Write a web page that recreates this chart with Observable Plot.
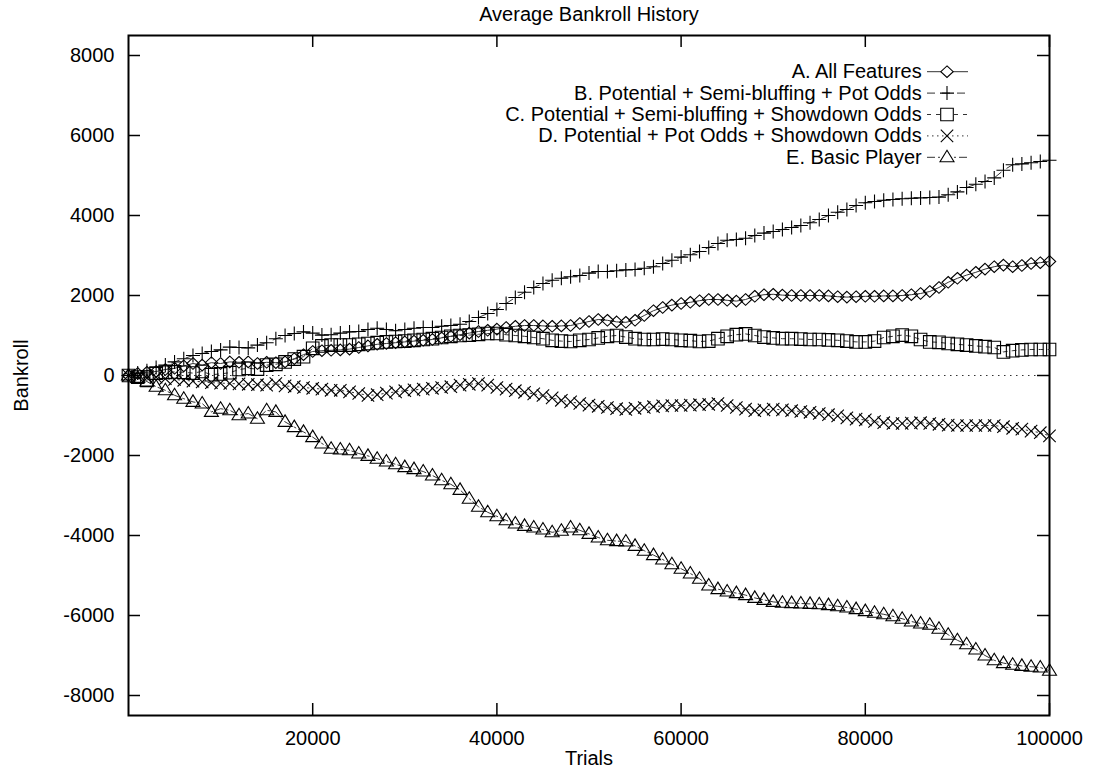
<!DOCTYPE html>
<html>
<head>
<meta charset="utf-8">
<script src="https://cdn.jsdelivr.net/npm/d3@7"></script>
<script src="https://cdn.jsdelivr.net/npm/@observablehq/plot@0.6"></script>
<style>
html, body { margin: 0; padding: 0; background: #fff; }
#chart svg { display: block; }
</style>
</head>
<body>
<div id="chart"></div>
<script>
// ---------- data (one point every 1000 trials) ----------
const trialStep = 1000;

const seriesNames = [
  "A. All Features",
  "B. Potential + Semi-bluffing + Pot Odds",
  "C. Potential + Semi-bluffing + Showdown Odds",
  "D. Potential + Pot Odds + Showdown Odds",
  "E. Basic Player"
];

const allFeatures = [
  0, 50, 80, 100, 150, 180, 240, 300, 260, 320,
  300, 340, 330, 340, 300, 330, 320, 340, 420, 520,
  600, 620, 630, 640, 660, 700, 740, 780, 800, 820,
  840, 860, 880, 900, 940, 980, 1020, 1060, 1100, 1130,
  1160, 1200, 1230, 1250, 1250, 1240, 1230, 1240, 1250, 1300,
  1350, 1400, 1380, 1340, 1330, 1380, 1500, 1620, 1700, 1760,
  1800, 1830, 1870, 1900, 1900, 1880, 1860, 1900, 1980, 2020,
  2030, 2010, 2000, 2000, 2000, 2000, 1990, 1970, 1960, 1970,
  1980, 1980, 1990, 1990, 2000, 2020, 2050, 2100, 2200, 2330,
  2430, 2510, 2580, 2660, 2720, 2760, 2720, 2750, 2800, 2820,
  2850
];

const semiBluffPotOdds = [
  0, 60, 120, 200, 260, 340, 420, 500, 550, 600,
  640, 710, 700, 690, 760, 820, 920, 1000, 1050, 1090,
  1060, 1010, 1020, 1060, 1090, 1100, 1150, 1180, 1150, 1120,
  1150, 1180, 1200, 1200, 1230, 1250, 1280, 1350, 1450, 1550,
  1650, 1800, 1950, 2080, 2200, 2300, 2380, 2430, 2470, 2500,
  2560, 2600, 2600, 2620, 2640, 2650, 2680, 2720, 2800, 2880,
  2960, 3020, 3100, 3200, 3300, 3380, 3400, 3430, 3500, 3560,
  3600, 3650, 3700, 3750, 3820, 3900, 4000, 4080, 4150, 4250,
  4320, 4350, 4380, 4400, 4420, 4430, 4440, 4450, 4460, 4520,
  4590, 4700, 4780, 4850, 4940, 5130, 5270, 5290, 5320, 5350,
  5380
];

const semiBluffShowdown = [
  0, -40, -120, 60, 80, 90, 80, 60, 100, 20,
  40, 70, 150, 180, 160, 260, 280, 340, 410, 470,
  680, 740, 760, 760, 760, 780, 800, 820, 840, 850,
  860, 880, 900, 920, 950, 980, 1000, 1010, 1030, 1050,
  1050, 1020, 1000, 980, 950, 920, 880, 860, 850, 880,
  900, 940, 980, 1000, 960, 920, 900, 900, 910, 900,
  880, 870, 850, 860, 920, 980, 1020, 1040, 1000, 960,
  940, 920, 920, 910, 900, 900, 890, 880, 860, 840,
  840, 860, 950, 980, 1010, 980, 900, 840, 830, 800,
  780, 760, 740, 720, 700, 590, 620, 640, 650, 650,
  650
];

const potOddsShowdown = [
  0, -30, -60, -40, -80, -100, -120, -140, -160, -180,
  -190, -200, -210, -220, -230, -240, -200, -260, -280, -300,
  -320, -340, -370, -370, -410, -450, -500, -480, -440, -410,
  -380, -360, -340, -320, -300, -280, -240, -220, -200, -240,
  -300, -340, -380, -420, -460, -500, -560, -620, -660, -700,
  -740, -770, -800, -830, -850, -820, -800, -780, -760, -750,
  -750, -740, -730, -720, -700, -750, -800, -840, -880, -860,
  -840, -860, -880, -900, -920, -950, -980, -1010, -1060, -1090,
  -1110, -1150, -1180, -1200, -1200, -1190, -1180, -1200, -1220, -1240,
  -1250, -1250, -1250, -1250, -1250, -1280, -1320, -1340, -1390, -1430,
  -1510
];

const basicPlayer = [
  0, -60, -150, -280, -370, -495, -580, -660, -700, -910,
  -830, -870, -995, -950, -1080, -870, -910, -1160, -1290, -1410,
  -1540, -1700, -1830, -1850, -1870, -1950, -2010, -2080, -2150, -2220,
  -2290, -2340, -2400, -2500, -2620, -2720, -2860, -3080, -3280, -3420,
  -3520, -3620, -3700, -3760, -3800, -3850, -3920, -3880, -3800, -3870,
  -3960, -4050, -4120, -4140, -4150, -4260, -4380, -4490, -4600, -4720,
  -4830, -4950, -5080, -5250, -5340, -5400, -5440, -5490, -5560, -5610,
  -5660, -5680, -5690, -5700, -5710, -5720, -5740, -5770, -5800, -5840,
  -5890, -5930, -5970, -6020, -6080, -6150, -6200, -6230, -6330, -6480,
  -6620, -6720, -6850, -7000, -7120, -7190, -7230, -7260, -7280, -7300,
  -7380
];

const xTicks = [20000, 40000, 60000, 80000, 100000];
const yTicks = [-8000, -6000, -4000, -2000, 0, 2000, 4000, 6000, 8000];
const titleText = "Average Bankroll History";
const xLabel = "Trials";
const yLabel = "Bankroll";

// ---------- styling ----------
const W = 1093, H = 769;
const mL = 128, mR = 44, mT = 35, mB = 54;
const plotW = W - mL - mR, plotH = H - mT - mB;
const FONT = "'Liberation Sans', Arial, Helvetica, sans-serif";
const tickLen = 12;

// gnuplot-like point symbols
const symDiamond = { draw(c) { c.moveTo(0, -5.8); c.lineTo(6.2, 0); c.lineTo(0, 5.8); c.lineTo(-6.2, 0); c.closePath(); } };
const symPlus = { draw(c) { c.moveTo(-7, 0); c.lineTo(7, 0); c.moveTo(0, -7); c.lineTo(0, 7); } };
const symSquare = { draw(c) { c.moveTo(-6.3, -6.3); c.lineTo(6.3, -6.3); c.lineTo(6.3, 6.3); c.lineTo(-6.3, 6.3); c.closePath(); } };
const symTimes = { draw(c) { c.moveTo(-6.2, -6.2); c.lineTo(6.2, 6.2); c.moveTo(-6.2, 6.2); c.lineTo(6.2, -6.2); } };
const symTriangle = { draw(c) { c.moveTo(0, -7); c.lineTo(7, 4.5); c.lineTo(-7, 4.5); c.closePath(); } };

const series = [
  { name: seriesNames[0], values: allFeatures, symbol: symDiamond, dash: null },
  { name: seriesNames[1], values: semiBluffPotOdds, symbol: symPlus, dash: "8,7" },
  { name: seriesNames[2], values: semiBluffShowdown, symbol: symSquare, dash: "4,5" },
  { name: seriesNames[3], values: potOddsShowdown, symbol: symTimes, dash: "1.5,3.5" },
  { name: seriesNames[4], values: basicPlayer, symbol: symTriangle, dash: "8,3,2,3" }
];

const xOf = (d, i) => i * trialStep;
const yOf = d => d;

function legendMark(index, scales, values, dimensions) {
  const dims = dimensions || { width: W, marginRight: mR, marginTop: mT };
  const right = dims.width - dims.marginRight;
  const top = dims.marginTop;
  const g = d3.create("svg:g");
  series.forEach((s, k) => {
    const y = top + 36.7 + k * 21.4;
    g.append("text")
      .attr("x", right - 127.3).attr("y", y).attr("dy", "0.32em")
      .attr("text-anchor", "end").attr("font-family", FONT).attr("font-size", 20)
      .attr("fill", "#000").text(s.name);
    g.append("line")
      .attr("x1", right - 122).attr("x2", right - 81).attr("y1", y).attr("y2", y)
      .attr("stroke", "#333").attr("stroke-width", 1)
      .attr("stroke-dasharray", s.dash);
    g.append("path")
      .attr("transform", `translate(${right - 102},${y})`)
      .attr("d", d3.symbol(s.symbol)())
      .attr("fill", "#fff").attr("stroke", "#000").attr("stroke-width", 1.1);
  });
  return g.node();
}

const marks = [
  Plot.ruleY([0], { stroke: "#333", strokeWidth: 1, strokeDasharray: "1.5,4.5" }),
  Plot.frame({ stroke: "#000", strokeWidth: 2 }),
  // inward ticks, mirrored on all four sides
  Plot.tickY(yTicks, { y: d => d, insetRight: plotW - tickLen, stroke: "#000", strokeWidth: 1.5 }),
  Plot.tickY(yTicks, { y: d => d, insetLeft: plotW - tickLen, stroke: "#000", strokeWidth: 1.5 }),
  Plot.tickX(xTicks, { x: d => d, insetTop: plotH - tickLen, stroke: "#000", strokeWidth: 1.5 }),
  Plot.tickX(xTicks, { x: d => d, insetBottom: plotH - tickLen, stroke: "#000", strokeWidth: 1.5 }),
  Plot.axisY({ ticks: yTicks, tickSize: 0, tickPadding: 14, tickFormat: d => String(d), label: null, fontSize: 20, fontFamily: FONT, fill: "#000" }),
  Plot.axisX({ ticks: xTicks, tickSize: 0, tickPadding: 15, tickFormat: d => String(d), label: null, fontSize: 20, fontFamily: FONT, fill: "#000" }),
  Plot.text([titleText], { text: d => d, frameAnchor: "top", textAnchor: "middle", lineAnchor: "middle", dy: -21, fontSize: 20, fontFamily: FONT, fill: "#000" }),
  Plot.text([xLabel], { text: d => d, frameAnchor: "bottom", textAnchor: "middle", lineAnchor: "middle", dy: 43, fontSize: 20, fontFamily: FONT, fill: "#000" }),
  Plot.text([yLabel], { text: d => d, frameAnchor: "left", textAnchor: "middle", lineAnchor: "middle", dx: -107, rotate: -90, fontSize: 20, fontFamily: FONT, fill: "#000" })
];

for (const s of series) {
  marks.push(Plot.line(s.values, { x: xOf, y: yOf, stroke: "#333", strokeWidth: 1, strokeDasharray: s.dash }));
}
for (const s of series) {
  marks.push(Plot.dot(s.values, { x: xOf, y: yOf, symbol: s.symbol, r: 5, stroke: "#000", fill: "none", strokeWidth: 1.1 }));
}
marks.push(legendMark);

const chart = Plot.plot({
  width: W,
  height: H,
  marginLeft: mL,
  marginRight: mR,
  marginTop: mT,
  marginBottom: mB,
  style: { fontFamily: FONT, fontSize: "20px", background: "#fff", color: "#000" },
  x: { type: "linear", domain: [0, 100000] },
  y: { type: "linear", domain: [-8500, 8500] },
  marks
});

document.getElementById("chart").appendChild(chart);
</script>
</body>
</html>
